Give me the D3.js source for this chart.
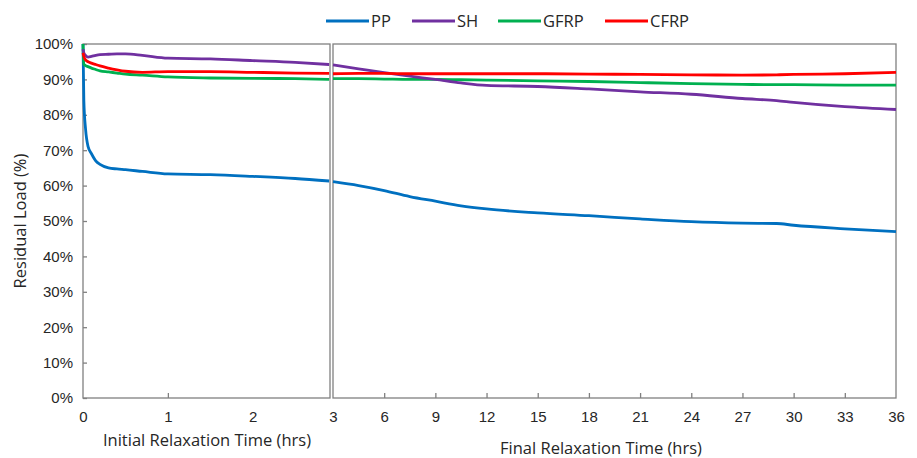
<!DOCTYPE html>
<html>
<head>
<meta charset="utf-8">
<script src="https://cdn.jsdelivr.net/npm/d3@7"></script>
<style>
  body { margin: 0; background: #fff; }
  svg { font-family: "Open Sans", "Noto Sans", sans-serif; }
</style>
</head>
<body>
<div id="chart"></div>
<script>
// Data (hours, residual load %)
const seriesNames = ['PP', 'SH', 'GFRP', 'CFRP'];
const seriesColors = ['#0070C0', '#7030A0', '#00B050', '#FF0000'];

// initial relaxation (0 - 3 hrs)
const tInitial = [0, 0.01, 0.03, 0.06, 0.1, 0.15, 0.2, 0.3, 0.4, 0.5, 0.7, 1.0, 1.5, 2.0, 2.5, 2.9];
const ppInitial   = [100, 84, 76, 71, 69, 67, 66, 65, 64.7, 64.5, 64, 63.3, 63.1, 62.6, 62.0, 61.3];
const shInitial   = [98.5, 97.5, 96.8, 96.3, 96.5, 96.8, 97.0, 97.1, 97.2, 97.2, 96.8, 96.0, 95.8, 95.3, 94.8, 94.2];
const gfrpInitial = [100, 94.3, 93.9, 93.6, 93.2, 92.8, 92.4, 92.1, 91.8, 91.5, 91.2, 90.7, 90.4, 90.3, 90.2, 90.0];
const cfrpInitial = [97.5, 96.5, 95.5, 95.0, 94.6, 94.2, 93.8, 93.2, 92.7, 92.3, 92.0, 92.2, 92.2, 92.0, 91.8, 91.7];

// final relaxation (3 - 36 hrs)
const tFinal = [3, 4.5, 6, 7.5, 9, 10.5, 12, 15, 18, 21, 24, 27, 29, 30, 33, 36];
const ppFinal   = [61.1, 60.0, 58.6, 56.9, 55.6, 54.3, 53.4, 52.3, 51.5, 50.6, 49.8, 49.4, 49.3, 48.8, 47.8, 47.0];
const shFinal   = [94.1, 93.0, 91.9, 90.9, 90.0, 89.0, 88.3, 88.0, 87.3, 86.5, 85.8, 84.6, 84.0, 83.5, 82.3, 81.5];
const gfrpFinal = [90.2, 90.2, 90.1, 90.0, 90.0, 89.9, 89.8, 89.6, 89.4, 89.1, 88.8, 88.6, 88.5, 88.5, 88.4, 88.4];
const cfrpFinal = [91.6, 91.7, 91.7, 91.6, 91.6, 91.6, 91.6, 91.6, 91.5, 91.4, 91.3, 91.2, 91.3, 91.4, 91.6, 92.0];

const yTicks = [0, 10, 20, 30, 40, 50, 60, 70, 80, 90, 100];
const xTicksInitial = [0, 1, 2];
const xTicksFinal = [3, 6, 9, 12, 15, 18, 21, 24, 27, 30, 33, 36];

const W = 917, H = 458;
const plotTop = 44, plotBottom = 398;
const textColor = '#262626';
const frameColor = '#808080';

const svg = d3.select('#chart').append('svg')
    .attr('width', W).attr('height', H);

// SCALES
const yScale = d3.scaleLinear().domain([0, 100]).range([plotBottom, plotTop]);
const xInitial = d3.scaleLinear().domain([0, 2.91]).range([83, 330]);
const xFinal = d3.scaleLinear().domain([3, 36]).range([333, 896]);

// frames
[xInitial, xFinal].forEach(x => {
    const [x0, x1] = x.range();
    svg.append('rect')
        .attr('x', x0).attr('y', plotTop)
        .attr('width', x1 - x0).attr('height', plotBottom - plotTop)
        .attr('fill', 'none').attr('stroke', frameColor).attr('stroke-width', 1.3);
});

// Y axis (ticks inside)
const yAxis = svg.append('g')
    .attr('transform', `translate(${xInitial(0)},0)`)
    .call(d3.axisLeft(yScale).tickValues(yTicks).tickSize(-4).tickPadding(10)
        .tickFormat(d => d + '%'));
yAxis.select('.domain').remove();
yAxis.selectAll('line').attr('stroke', frameColor).attr('stroke-width', 1.3);
yAxis.selectAll('text').attr('fill', textColor).style('font-size', '15px');

// X axes
function drawXAxis(scale, ticks) {
    const ax = svg.append('g')
        .attr('transform', `translate(0,${plotBottom})`)
        .call(d3.axisBottom(scale).tickValues(ticks).tickSize(-5).tickPadding(13)
            .tickFormat(d3.format('d')));
    ax.select('.domain').remove();
    ax.selectAll('line').attr('stroke', frameColor).attr('stroke-width', 1.3);
    ax.selectAll('text').attr('fill', textColor).style('font-size', '15px');
    // no tick marks on the frame corners
    ax.selectAll('.tick').filter(d => d === ticks[0] || d === ticks[ticks.length - 1])
        .select('line').remove();
}
drawXAxis(xInitial, xTicksInitial);
drawXAxis(xFinal, xTicksFinal);

// LINES
const initialValues = [ppInitial, shInitial, gfrpInitial, cfrpInitial];
const finalValues = [ppFinal, shFinal, gfrpFinal, cfrpFinal];

function drawLines(xScale, times, valueSets) {
    const line = d3.line()
        .curve(d3.curveMonotoneX)
        .x(d => xScale(d[0]))
        .y(d => yScale(d[1]));
    // draw order: PP, GFRP, SH, CFRP on top
    [0, 2, 1, 3].forEach(i => {
        const pts = times.map((t, j) => [t, valueSets[i][j]]);
        svg.append('path')
            .datum(pts)
            .attr('fill', 'none')
            .attr('stroke', seriesColors[i])
            .attr('stroke-width', 2.8)
            .attr('stroke-linejoin', 'round')
            .attr('d', line);
    });
}
drawLines(xInitial, tInitial, initialValues);
drawLines(xFinal, tFinal, finalValues);

// Axis titles
svg.append('text')
    .attr('transform', `translate(26,221) rotate(-90)`)
    .attr('text-anchor', 'middle')
    .attr('fill', textColor)
    .style('font-size', '16.5px')
    .text('Residual Load (%)');

svg.append('text')
    .attr('x', 207).attr('y', 446)
    .attr('text-anchor', 'middle')
    .attr('fill', textColor)
    .style('font-size', '16.5px')
    .text('Initial Relaxation Time (hrs)');

svg.append('text')
    .attr('x', 601).attr('y', 454)
    .attr('text-anchor', 'middle')
    .attr('fill', textColor)
    .style('font-size', '16.5px')
    .text('Final Relaxation Time (hrs)');

// Legend
const legendX = [326, 412, 498, 605];
const legendY = 21;
seriesNames.forEach((name, i) => {
    svg.append('line')
        .attr('x1', legendX[i]).attr('x2', legendX[i] + 43)
        .attr('y1', legendY).attr('y2', legendY)
        .attr('stroke', seriesColors[i]).attr('stroke-width', 3);
    svg.append('text')
        .attr('x', legendX[i] + 45).attr('y', legendY + 6)
        .attr('fill', textColor)
        .style('font-size', '16.5px')
        .text(name);
});
</script>
</body>
</html>
